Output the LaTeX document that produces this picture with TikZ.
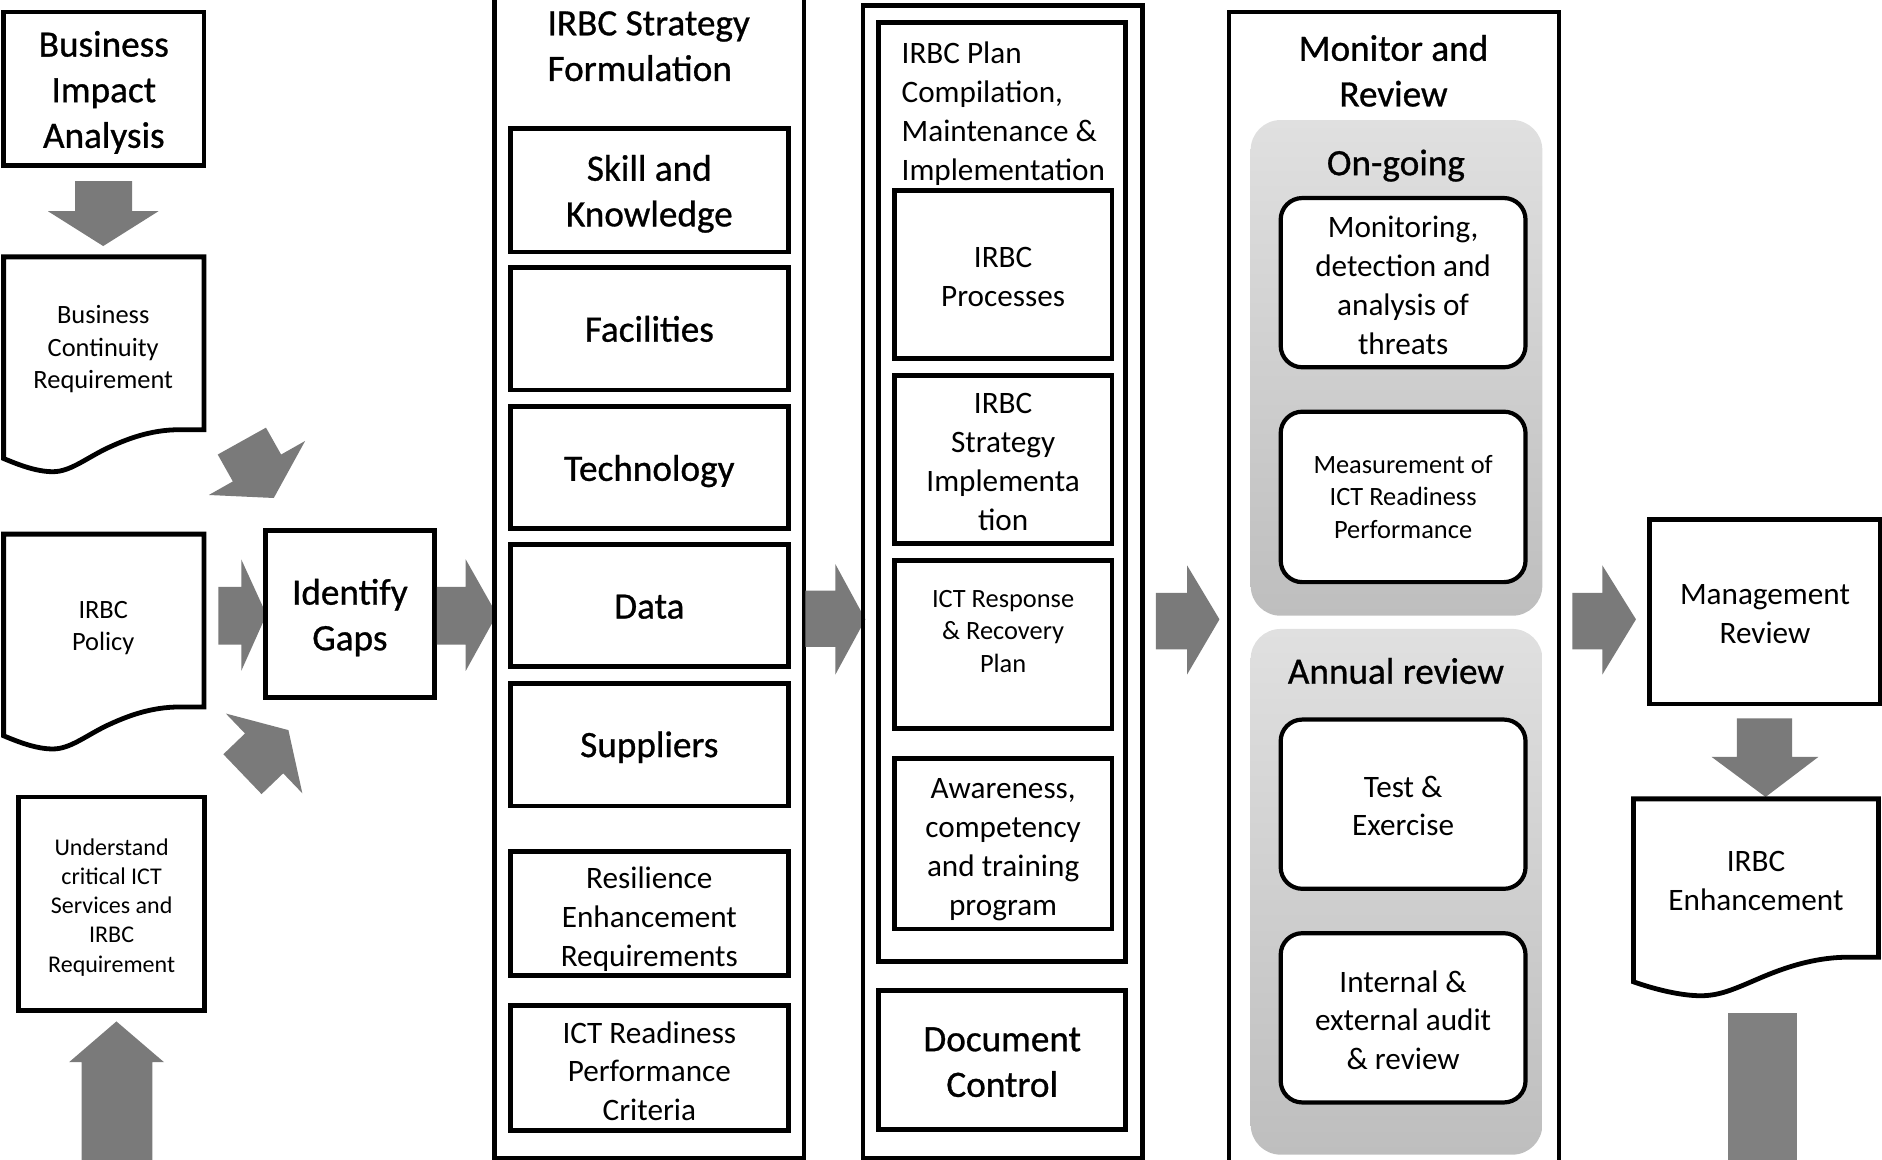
\documentclass[tikz,border=0pt]{standalone}
\usepackage{fontspec}
\setmainfont{Carlito}
\newfontfamily\hvy{Carlito}[FakeBold=0.8]
\usetikzlibrary{calc}
\definecolor{arrowgray}{RGB}{122,122,122}
\definecolor{shaftgray}{RGB}{128,128,128}
\definecolor{paneltop}{RGB}{224,224,224}
\definecolor{panelbot}{RGB}{190,190,190}
\begin{document}
\begin{tikzpicture}[x=1pt,y=-1pt,
  box/.style={draw, line width=4pt, inner sep=0pt, fill=white},
  colbox/.style={draw, line width=3.5pt},
  big/.style={font=\hvy\fontsize{31}{38}\selectfont, align=center, inner sep=0pt},
  mid/.style={font=\fontsize{26}{32.4}\selectfont, align=center, inner sep=0pt},
  small/.style={font=\fontsize{22}{27}\selectfont, align=center, inner sep=0pt},
  tiny/.style={font=\fontsize{20}{24.3}\selectfont, align=center, inner sep=0pt},
  blockarrow/.style={fill=arrowgray},
  rbox/.style={draw, line width=3.5pt, fill=white, rounded corners=18pt, inner sep=0pt},
  panel/.style={top color=paneltop, bottom color=panelbot, rounded corners=25pt},
  docline/.style={draw, line width=4pt, fill=white},
]
\useasboundingbox (0,0) rectangle (1568,966);
\clip (0,0) rectangle (1568,966);

% ---------------- left column ----------------
\node[box, minimum width=167pt, minimum height=128pt] (bia) at (86.5,74) {};
\node[big] (biatext) at (86.5,77) {Business\\Impact\\Analysis};

\fill[blockarrow] (62.5,151) -- (110,151) -- (110,176) -- (132,176) -- (86,205) -- (40,176) -- (62.5,176) -- cycle;

\path[docline] (3,382) -- (3,214) -- (170,214) -- (170,358) -- (150,358)
  .. controls (125,358) and (105,366) .. (88,374)
  .. controls (70,383) and (58,393) .. (44,393)
  .. controls (30,393) and (15,387) .. (3,382) -- cycle;
\node[small] (bcr) at (86,291) {Business\\Continuity\\Requirement};

\begin{scope}[shift={(0,231)}]
\path[docline] (3,382) -- (3,214) -- (170,214) -- (170,358) -- (150,358)
  .. controls (125,358) and (105,366) .. (88,374)
  .. controls (70,383) and (58,393) .. (44,393)
  .. controls (30,393) and (15,387) .. (3,382) -- cycle;
\end{scope}
\node[small] (policy) at (86,523.5) {IRBC\\Policy};

\node[box, minimum width=155pt, minimum height=178pt] (underst) at (93,753) {};
\node[tiny] (understtext) at (93,756) {Understand\\critical ICT\\Services and\\IRBC\\Requirement};

\fill[blockarrow] (68,990) -- (68,885) -- (57.5,885) -- (97,851) -- (136.7,885) -- (127,885) -- (127,990) -- cycle;

% arrows into Identify Gaps
\fill[blockarrow] (221.6,356.3) -- (234.2,378.7) -- (254.2,367.4) -- (228.1,414.9) -- (174.0,412.4) -- (194.0,401.1) -- (181.4,378.7) -- cycle;
\fill[blockarrow] (182,489) -- (201,489) -- (201,466) -- (222,512) -- (201,559) -- (201,537) -- (182,537) -- cycle;
\fill[blockarrow] (217.9,661.6) -- (235.96,644.3) -- (251.9,660.9) -- (240.3,608.3) -- (188.2,594.5) -- (204.1,611.1) -- (186.1,628.4) -- cycle;

\node[box, minimum width=141pt, minimum height=139pt] (gaps) at (291.5,511.5) {};
\node[big] (gapstext) at (291.5,514.5) {Identify\\Gaps};

\fill[blockarrow] (364,489) -- (388,489) -- (388,466) -- (414,512) -- (388,559) -- (388,537) -- (364,537) -- cycle;

% ---------------- column 2 ----------------
\draw[colbox] (412,-10) -- (412,964.5) -- (670,964.5) -- (670,-10);
\node[big, align=left, anchor=west] (formtitle) at (456,38.5) {IRBC Strategy\\Formulation};
\node[box, minimum width=232pt, minimum height=103pt] (skill) at (541,158.5) {};
\node[big] (skilltext) at (541,161.5) {Skill and\\Knowledge};
\node[box, big, minimum width=232pt, minimum height=102pt] (facil) at (541,274) {Facilities};
\node[box, minimum width=232pt, minimum height=102pt] (techn) at (541,389.5) {};
\node[big] (techntext) at (541,392.5) {Technology};
\node[box, minimum width=232pt, minimum height=102pt] (data) at (541,504.5) {};
\node[big] (datatext) at (541,505.5) {Data};
\node[box, minimum width=232pt, minimum height=102pt] (suppl) at (541,620.5) {};
\node[big] (suppltext) at (541,622.5) {Suppliers};
\node[box, minimum width=232pt, minimum height=103pt] (resil) at (541,761) {};
\node[mid] (resiltext) at (541,765.5) {Resilience\\Enhancement\\Requirements};
\node[box, minimum width=232pt, minimum height=104pt] (ictperf) at (541,890) {};
\node[mid] (ictperftext) at (541,892.5) {ICT Readiness\\Performance\\Criteria};

\fill[blockarrow] (671,492) -- (696,492) -- (696,470) -- (721,516) -- (696,562) -- (696,539) -- (671,539) -- cycle;

% ---------------- column 3 ----------------
\draw[line width=4pt] (719,990) -- (719,4.6) -- (952,4.6) -- (952,990);
\draw[line width=3.5pt] (719,964.5) -- (952,964.5);
\node[box, fill=none, minimum width=206pt, minimum height=782.5pt] (plan) at (835,409.75) {};
\node[mid, align=left, anchor=west] (plantitle) at (751,94.5) {IRBC Plan\\Compilation,\\Maintenance \&\\Implementation};
\node[box, minimum width=181.5pt, minimum height=140pt] (proc) at (835.75,229) {};
\node[mid] (proctext) at (835.75,231) {IRBC\\Processes};
\node[box, minimum width=181.5pt, minimum height=140pt] (strimpl) at (835.75,383) {};
\node[mid] (strimpltext) at (835.75,385) {IRBC\\Strategy\\Implementa\\tion};
\node[box, minimum width=181.5pt, minimum height=140pt] (resp) at (835.75,537) {};
\node[small] (resptext) at (835.75,526) {ICT Response\\\& Recovery\\Plan};
\node[box, minimum width=181.5pt, minimum height=142pt] (aware) at (835.75,703) {};
\node[mid] (awaretext) at (835.75,708) {Awareness,\\competency\\and training\\program};
\node[box, minimum width=206pt, minimum height=116pt] (doc) at (835,883) {};
\node[big] (doctext) at (835,885) {Document\\Control};

\fill[blockarrow] (963,494) -- (989,494) -- (989,471) -- (1016,516) -- (989,562) -- (989,541) -- (963,541) -- cycle;

% ---------------- column 4 ----------------
\draw[colbox] (1024,990) -- (1024,10) -- (1299,10) -- (1299,990);
\node[big] (montitle) at (1161,59) {Monitor and\\Review};
\path[panel] (1042,100) rectangle (1285,513);
\node[big] (ongoing) at (1163,138) {On-going};
\node[rbox, minimum width=204pt, minimum height=141pt] (monit) at (1169,235.5) {};
\node[mid] (monittext) at (1169,237.5) {Monitoring,\\detection and\\analysis of\\threats};
\node[rbox, small, minimum width=204pt, minimum height=142pt] (measure) at (1169,414) {Measurement of\\ICT Readiness\\Performance};
\path[panel] (1042,524) rectangle (1285,962);
\node[big] (annual) at (1163,559) {Annual review};
\node[rbox, minimum width=204pt, minimum height=141pt] (test) at (1169,670) {};
\node[mid] (testtext) at (1169,671.5) {Test \&\\Exercise};
\node[rbox, minimum width=204pt, minimum height=141pt] (audit) at (1169,848) {};
\node[mid] (audittext) at (1169,850) {Internal \&\\external audit\\\& review};

\fill[blockarrow] (1310,494) -- (1335,494) -- (1335,471) -- (1363,516) -- (1335,562) -- (1335,541) -- (1310,541) -- cycle;

% ---------------- right column ----------------
\node[box, minimum width=192pt, minimum height=154pt] (mgmt) at (1470.5,509.6) {};
\node[mid] (mgmttext) at (1470.5,511.5) {Management\\Review};

\fill[blockarrow] (1447,598.6) -- (1493,598.6) -- (1493,630.6) -- (1515,630.6) -- (1471,664) -- (1426,630.6) -- (1447,630.6) -- cycle;

\path[docline] (1361,818) -- (1361,665.6) -- (1565,665.6) -- (1565,797.5) -- (1540,797.5)
  .. controls (1512,797.5) and (1487,806) .. (1466,815)
  .. controls (1445,824) and (1433,829.6) .. (1417,829.6)
  .. controls (1400,829.6) and (1378,824) .. (1361,818) -- cycle;
\node[mid] (enh) at (1463,734) {IRBC\\Enhancement};

\fill[shaftgray] (1440,844) rectangle (1497.5,990);
\end{tikzpicture}
\end{document}
